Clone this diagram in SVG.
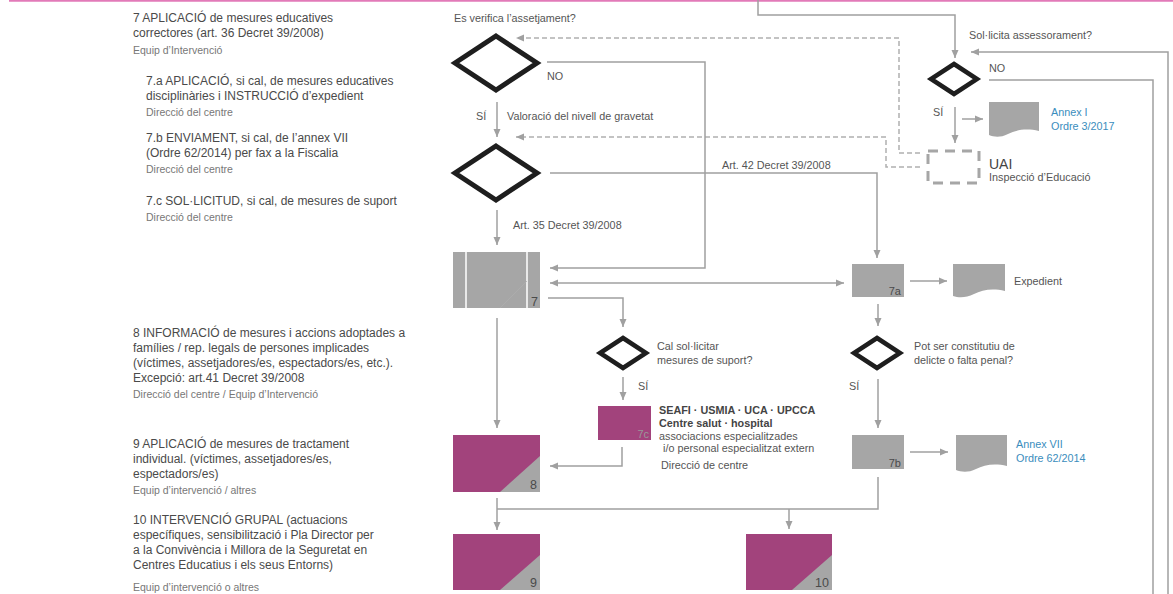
<svg xmlns="http://www.w3.org/2000/svg" width="1173" height="594" viewBox="0 0 1173 594">
<defs>
<style>
text{font-family:"Liberation Sans",Arial,sans-serif;}
.t{font-size:12px;fill:#4a4a4a;}
.s{font-size:10.5px;fill:#777;}
.l{font-size:10.8px;fill:#555;}
.b{font-size:10.8px;fill:#444;font-weight:bold;}
.blue{font-size:10.8px;fill:#3a8dbd;}
.num{font-size:12.5px;fill:#4a4a4a;text-anchor:end;}
.grey{fill:#a6a6a6;}
.purple{fill:#a2437c;}
.dia{fill:#fff;stroke:#1e1e1e;stroke-linejoin:miter;}
.c{fill:none;stroke:#a0a0a0;stroke-width:1.5;}
.d{fill:none;stroke:#b0b0b0;stroke-width:1.5;stroke-dasharray:5 3;}
</style>
<marker id="a" markerUnits="userSpaceOnUse" markerWidth="9" markerHeight="8" refX="8" refY="4" orient="auto-start-reverse">
<path d="M0,0.5 L8,4 L0,7.5 z" fill="#a0a0a0"/>
</marker>
</defs>
<rect x="0" y="0" width="1173" height="594" fill="#fff"/>
<line x1="9" y1="0.8" x2="1173" y2="0.8" stroke="#e27ab8" stroke-width="2"/>

<g id="left-text">
<text class="t" x="133" y="22">7 APLICACIÓ de mesures educatives</text>
<text class="t" x="133" y="37">correctores (art. 36 Decret 39/2008)</text>
<text class="s" x="133" y="54">Equip d’Intervenció</text>
<text class="t" x="146" y="85">7.a APLICACIÓ, si cal, de mesures educatives</text>
<text class="t" x="146" y="100">disciplinàries i INSTRUCCIÓ d’expedient</text>
<text class="s" x="146" y="116">Direcció del centre</text>
<text class="t" x="146" y="142">7.b ENVIAMENT, si cal, de l’annex VII</text>
<text class="t" x="146" y="157">(Ordre 62/2014) per fax a la Fiscalia</text>
<text class="s" x="146" y="173">Direcció del centre</text>
<text class="t" x="146" y="205">7.c SOL·LICITUD, si cal, de mesures de suport</text>
<text class="s" x="146" y="221">Direcció del centre</text>
<text class="t" x="133" y="337">8 INFORMACIÓ de mesures i accions adoptades a</text>
<text class="t" x="133" y="352">famílies / rep. legals de persones implicades</text>
<text class="t" x="133" y="367">(víctimes, assetjadores/es, espectadors/es, etc.).</text>
<text class="t" x="133" y="382">Excepció: art.41 Decret 39/2008</text>
<text class="s" x="133" y="398">Direcció del centre / Equip d’Intervenció</text>
<text class="t" x="133" y="448">9 APLICACIÓ de mesures de tractament</text>
<text class="t" x="133" y="463">individual. (víctimes, assetjadores/es,</text>
<text class="t" x="133" y="478">espectadors/es)</text>
<text class="s" x="133" y="494">Equip d’intervenció / altres</text>
<text class="t" x="133" y="524">10 INTERVENCIÓ GRUPAL (actuacions</text>
<text class="t" x="133" y="539">específiques, sensibilització i Pla Director per</text>
<text class="t" x="133" y="554">a la Convivència i Millora de la Seguretat en</text>
<text class="t" x="133" y="569">Centres Educatius i els seus Entorns)</text>
<text class="s" x="133" y="591">Equip d’intervenció o altres</text>
</g>

<g id="connectors">
<path class="c" d="M758,0 V15 H955 V58" marker-end="url(#a)"/>
<path class="c" d="M1168,594 V52 H971" marker-end="url(#a)"/>
<path class="c" d="M989,80 H1153 V594"/>
<path class="c" d="M955,107 V143" marker-end="url(#a)"/>
<path class="c" d="M962,119 H983" marker-end="url(#a)"/>
<path class="d" d="M920,153 H899 V38 H516" marker-end="url(#a)"/>
<path class="d" d="M920,167 H886 V137 H516" marker-end="url(#a)"/>
<path class="c" d="M547,62 H705 V268 H550" marker-end="url(#a)"/>
<path class="c" d="M497,102 V137" marker-end="url(#a)"/>
<path class="c" d="M550,173 H877 V258" marker-end="url(#a)"/>
<path class="c" d="M497,210 V245" marker-end="url(#a)"/>
<path class="c" d="M550,283 H844" marker-start="url(#a)" marker-end="url(#a)"/>
<path class="c" d="M548,298 H623 V327" marker-end="url(#a)"/>
<path class="c" d="M623,377 V400" marker-end="url(#a)"/>
<path class="c" d="M622,447 V466 H550" marker-end="url(#a)"/>
<path class="c" d="M497,318 V428" marker-end="url(#a)"/>
<path class="c" d="M910,281 H947" marker-end="url(#a)"/>
<path class="c" d="M878,304 V326" marker-end="url(#a)"/>
<path class="c" d="M878,379 V428" marker-end="url(#a)"/>
<path class="c" d="M910,452 H948" marker-end="url(#a)"/>
<path class="c" d="M497,498 V530" marker-end="url(#a)"/>
<path class="c" d="M497,509 H878 V477"/>
<path class="c" d="M789,509 V529" marker-end="url(#a)"/>
</g>

<g id="d-verifica">
<polygon class="dia" stroke-width="5" points="496,36 537,63 496,90 455,63"/>
<text class="l" x="454" y="22">Es verifica l’assetjament?</text>
<text class="l" x="547" y="80">NO</text>
<text class="l" x="476" y="120">SÍ</text>
<text class="l" x="507" y="120">Valoració del nivell de gravetat</text>
</g>

<g id="d-gravetat">
<polygon class="dia" stroke-width="5" points="496,146 537,173 496,200 455,173"/>
<text class="l" x="722" y="169">Art. 42 Decret 39/2008</text>
<text class="l" x="513" y="229">Art. 35 Decret 39/2008</text>
</g>

<g id="d-assessorament">
<polygon class="dia" stroke-width="4.5" points="954,64 977,79 954,94 931,79"/>
<text class="l" x="969" y="39">Sol·licita assessorament?</text>
<text class="l" x="989" y="72">NO</text>
<text class="l" x="933" y="116">SÍ</text>
</g>

<g id="annex-i">
<path class="grey" d="M989,102 H1039 V131 C1026,128 1016,130 1008,134 C1000,138 994,137 989,135 Z"/>
<text class="blue" x="1051" y="116">Annex I</text>
<text class="blue" x="1051" y="130">Ordre 3/2017</text>
</g>

<g id="uai">
<rect x="928" y="151" width="51" height="32" fill="none" stroke="#a6a6a6" stroke-width="3" stroke-dasharray="10 7"/>
<text x="989" y="169" style="font-size:14px;fill:#444">UAI</text>
<text class="l" x="989" y="181">Inspecció d’Educació</text>
</g>

<g id="n7">
<rect class="grey" x="453" y="252" width="87" height="56"/>
<line x1="466" y1="252" x2="466" y2="308" stroke="#fff" stroke-width="1.5"/>
<line x1="527" y1="252" x2="527" y2="308" stroke="#fff" stroke-width="1.5"/>
<line x1="500" y1="308" x2="527" y2="281" stroke="#adadad" stroke-width="0.8"/>
<text class="num" x="538" y="306">7</text>
</g>

<g id="n7a">
<rect class="grey" x="852" y="264" width="52" height="33"/>
<text class="num" x="901" y="295" style="font-size:11px">7a</text>
</g>

<g id="expedient">
<path class="grey" d="M953,264 H1005 V291 C992,288 982,290 974,294 C966,298 959,298 953,296 Z"/>
<text class="l" x="1014" y="285">Expedient</text>
</g>

<g id="d-suport">
<polygon class="dia" stroke-width="4.5" points="623,338 646,353 623,368 600,353"/>
<text class="l" x="657" y="350">Cal sol·licitar</text>
<text class="l" x="657" y="364">mesures de suport?</text>
<text class="l" x="638" y="390">SÍ</text>
</g>

<g id="d-delicte">
<polygon class="dia" stroke-width="4.5" points="877,338 900,353 877,368 854,353"/>
<text class="l" x="914" y="350">Pot ser constitutiu de</text>
<text class="l" x="914" y="364">delicte o falta penal?</text>
<text class="l" x="849" y="390">SÍ</text>
</g>

<g id="n7c">
<rect class="purple" x="598" y="406" width="53" height="34"/>
<text class="num" x="649" y="438" style="font-size:11px;fill:#999">7c</text>
<text class="b" x="659" y="414">SEAFI · USMIA · UCA · UPCCA</text>
<text class="b" x="659" y="427">Centre salut · hospital</text>
<text class="l" x="659" y="440">associacions especialitzades</text>
<text class="l" x="663" y="452">i/o personal especialitzat extern</text>
<text class="l" x="661" y="469">Direcció de centre</text>
</g>

<g id="n7b">
<rect class="grey" x="852" y="435" width="52" height="34"/>
<text class="num" x="901" y="467" style="font-size:11px">7b</text>
</g>

<g id="annex-vii">
<path class="grey" d="M956,435 H1007 V466 C994,463 984,465 976,469 C968,473 961,472 956,470 Z"/>
<text class="blue" x="1016" y="448">Annex VII</text>
<text class="blue" x="1016" y="462">Ordre 62/2014</text>
</g>

<g id="n8">
<rect class="purple" x="453" y="435" width="87" height="57"/>
<polygon class="grey" points="500,492 540,492 540,456"/>
<text class="num" x="537" y="489">8</text>
</g>

<g id="n9">
<rect class="purple" x="453" y="534" width="87" height="56"/>
<polygon class="grey" points="500,590 540,590 540,555"/>
<text class="num" x="537" y="587">9</text>
</g>

<g id="n10">
<rect class="purple" x="746" y="534" width="86" height="56"/>
<polygon class="grey" points="792,590 832,590 832,555"/>
<text class="num" x="829" y="587">10</text>
</g>
</svg>
